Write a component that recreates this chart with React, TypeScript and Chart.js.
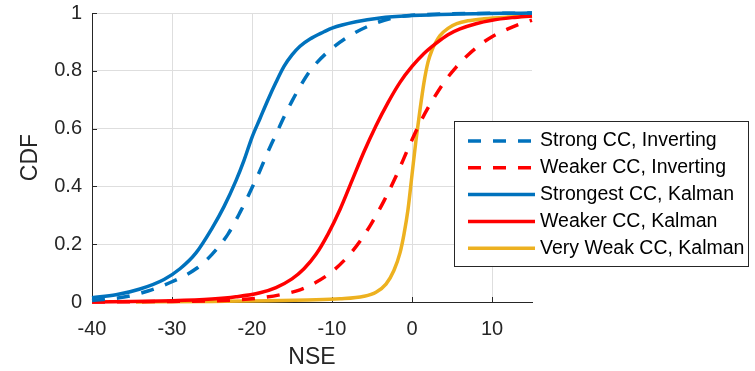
import React, { useEffect, useRef } from 'react';
import { Chart, registerables } from 'chart.js';

Chart.register(...registerables);

// ---- Data ----
const xTicks = [-40, -30, -20, -10, 0, 10];
const xTickLabels = ['-40', '-30', '-20', '-10', '0', '10'];
const yTicks = [0, 0.2, 0.4, 0.6, 0.8, 1];
const yTickLabels = ['0', '0.2', '0.4', '0.6', '0.8', '1'];

const seriesNames = [
  'Strong CC, Inverting',
  'Weaker CC, Inverting',
  'Strongest CC, Kalman',
  'Weaker CC, Kalman',
  'Very Weak CC, Kalman',
];

const strongInvX = [-40, -36, -33, -30, -27, -25, -23, -21.5, -20, -19, -18, -17, -16, -15, -14, -13, -12, -10, -7.75, -5, -2.5, 0, 5, 15];
const strongInvY = [0.005, 0.017, 0.038, 0.07, 0.115, 0.165, 0.235, 0.31, 0.395, 0.455, 0.52, 0.58, 0.64, 0.695, 0.745, 0.79, 0.825, 0.878, 0.922, 0.96, 0.982, 0.992, 0.997, 1.0];

const weakerInvX = [-40, -30, -25, -22, -19, -16.5, -14, -12, -10, -8, -6.5, -5, -3.5, -2, -0.5, 1, 2.5, 4, 5.5, 7, 8.5, 10, 12, 13.5, 15];
const weakerInvY = [0, 0.002, 0.004, 0.007, 0.014, 0.025, 0.042, 0.068, 0.105, 0.158, 0.21, 0.275, 0.35, 0.435, 0.53, 0.62, 0.695, 0.76, 0.812, 0.855, 0.89, 0.918, 0.945, 0.962, 0.975];

const strongestKalX = [-40, -37, -34, -31, -29, -27, -25, -23.5, -22, -21, -20, -19, -18, -17, -16, -15, -14, -12.75, -11, -10, -7, -4, 0, 5, 15];
const strongestKalY = [0.015, 0.025, 0.045, 0.078, 0.115, 0.17, 0.255, 0.33, 0.42, 0.49, 0.57, 0.635, 0.7, 0.76, 0.815, 0.855, 0.885, 0.91, 0.935, 0.948, 0.97, 0.983, 0.991, 0.996, 1.0];

const weakerKalX = [-40, -35, -30, -25, -22, -19, -17, -15, -13.5, -12, -10.5, -9, -7.5, -6, -4.5, -3, -1.5, 0, 1.5, 3, 4.5, 6, 8, 10, 12.5, 15];
const weakerKalY = [0, 0.002, 0.004, 0.01, 0.018, 0.032, 0.05, 0.08, 0.115, 0.165, 0.235, 0.32, 0.42, 0.52, 0.61, 0.69, 0.76, 0.815, 0.86, 0.895, 0.925, 0.945, 0.963, 0.975, 0.984, 0.99];

const veryWeakKalX = [-34.5, -25, -18, -13, -9, -6, -4.5, -3.25, -2.25, -1.5, -1, -0.5, 0, 0.5, 1, 1.5, 2, 2.5, 3, 3.5, 4.5, 5.6, 7, 9, 12, 15];
const veryWeakKalY = [0, 0.002, 0.004, 0.007, 0.011, 0.02, 0.034, 0.062, 0.11, 0.17, 0.235, 0.32, 0.44, 0.56, 0.665, 0.76, 0.83, 0.872, 0.9, 0.922, 0.947, 0.963, 0.973, 0.98, 0.986, 0.99];

// ---- Styles ----
const BLUE = '#0072BD';
const RED = '#FF0000';
const YELLOW = '#EDB120';
const AXIS = '#262626';
const GRID = '#dedede';
const FONT = '"Liberation Sans", Arial, Helvetica, sans-serif';
const DASH = [13, 12];
const LW = 3.5;

const toPoints = (xs: number[], ys: number[]) => xs.map((x, i) => ({ x, y: ys[i] }));

const inwardTicks = {
  id: 'inwardTicks',
  beforeDatasetsDraw(chart: any) {
    const { ctx } = chart;
    const xs = chart.scales.x;
    const ys = chart.scales.y;
    ctx.save();
    ctx.strokeStyle = AXIS;
    ctx.lineWidth = 1;
    ctx.beginPath();
    xTicks.forEach((v) => {
      const px = Math.round(xs.getPixelForValue(v)) + 0.5;
      ctx.moveTo(px, ys.bottom);
      ctx.lineTo(px, ys.bottom - 5);
    });
    yTicks.forEach((v) => {
      const py = Math.round(ys.getPixelForValue(v)) + 0.5;
      ctx.moveTo(xs.left, py);
      ctx.lineTo(xs.left + 5, py);
    });
    ctx.stroke();
    ctx.restore();
  },
};

const boxLegend = {
  id: 'boxLegend',
  afterDraw(chart: any) {
    const { ctx } = chart;
    const x0 = 454;
    const y0 = 121;
    const w = 294;
    const h = 145;
    ctx.save();
    ctx.fillStyle = '#ffffff';
    ctx.fillRect(x0, y0, w, h);
    ctx.strokeStyle = AXIS;
    ctx.lineWidth = 1;
    ctx.strokeRect(x0 + 0.5, y0 + 0.5, w, h);
    chart.data.datasets.forEach((ds: any, i: number) => {
      const y = y0 + 20 + i * 26.8;
      ctx.strokeStyle = ds.borderColor;
      ctx.lineWidth = ds.borderWidth;
      ctx.setLineDash(ds.borderDash || []);
      ctx.beginPath();
      ctx.moveTo(468, y);
      ctx.lineTo(535, y);
      ctx.stroke();
      ctx.setLineDash([]);
      ctx.fillStyle = '#000000';
      ctx.font = `19.5px ${FONT}`;
      ctx.textBaseline = 'middle';
      ctx.textAlign = 'left';
      ctx.fillText(ds.label, 540, y);
    });
    ctx.restore();
  },
};

export default function App() {
  const ref = useRef<HTMLCanvasElement>(null);

  useEffect(() => {
    document.body.style.margin = '0';
    const canvas = ref.current;
    if (!canvas) return;

    const mk = (label: string, xs: number[], ys: number[], color: string, dashed: boolean) => ({
      label,
      data: toPoints(xs, ys),
      borderColor: color,
      backgroundColor: color,
      borderWidth: LW,
      borderDash: dashed ? DASH : [],
      pointRadius: 0,
      fill: false,
      cubicInterpolationMode: 'monotone' as const,
      clip: 4,
    });

    const chart = new Chart(canvas, {
      type: 'line',
      data: {
        datasets: [
          mk(seriesNames[0], strongInvX, strongInvY, BLUE, true),
          mk(seriesNames[1], weakerInvX, weakerInvY, RED, true),
          mk(seriesNames[2], strongestKalX, strongestKalY, BLUE, false),
          mk(seriesNames[3], weakerKalX, weakerKalY, RED, false),
          mk(seriesNames[4], veryWeakKalX, veryWeakKalY, YELLOW, false),
        ],
      },
      options: {
        animation: false,
        responsive: false,
        devicePixelRatio: 1,
        layout: { padding: { left: 0, top: 13, right: 223, bottom: 0 } },
        plugins: {
          legend: { display: false },
          tooltip: { enabled: false },
        },
        scales: {
          x: {
            type: 'linear',
            min: -40,
            max: 15,
            afterFit: (s: any) => { s.height = 69; s.paddingLeft = 0; s.paddingRight = 0; },
            afterBuildTicks: (s: any) => { s.ticks = xTicks.map((v) => ({ value: v })); },
            ticks: {
              callback: (_v: any, i: number) => xTickLabels[i],
              color: AXIS,
              font: { family: FONT, size: 20 },
              padding: 15,
              maxRotation: 0,
            },
            grid: { color: GRID, lineWidth: 1, drawTicks: false },
            border: { color: AXIS, width: 1 },
            title: {
              display: true,
              text: 'NSE',
              color: AXIS,
              font: { family: FONT, size: 23 },
              padding: { top: 0, bottom: 0 },
            },
          },
          y: {
            type: 'linear',
            min: 0,
            max: 1,
            afterFit: (s: any) => { s.width = 92; s.paddingTop = 0; s.paddingBottom = 0; },
            afterBuildTicks: (s: any) => { s.ticks = yTicks.map((v) => ({ value: v })); },
            ticks: {
              callback: (_v: any, i: number) => yTickLabels[i],
              color: AXIS,
              font: { family: FONT, size: 20 },
              padding: 10,
            },
            grid: { color: GRID, lineWidth: 1, drawTicks: false },
            border: { color: AXIS, width: 1 },
            title: {
              display: true,
              text: 'CDF',
              color: AXIS,
              font: { family: FONT, size: 23 },
              padding: { top: 17, bottom: 0 },
            },
          },
        },
      },
      plugins: [inwardTicks, boxLegend],
    });

    return () => chart.destroy();
  }, []);

  return (
    <div style={{ width: 755, height: 371 }}>
      <canvas ref={ref} width={755} height={371} style={{ display: 'block' }} />
    </div>
  );
}
